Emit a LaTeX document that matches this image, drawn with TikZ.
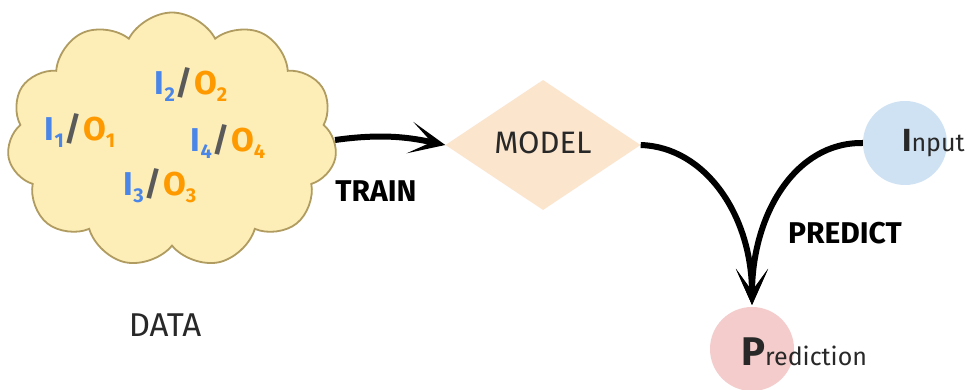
\documentclass[tikz,border=0pt]{standalone}
\usepackage{fontspec}
\setmainfont{Fira Sans}
\usetikzlibrary{shapes.symbols,shapes.geometric,arrows.meta}
\definecolor{cloudfill}{RGB}{253,238,184}
\definecolor{cloudline}{RGB}{176,156,96}
\definecolor{modelfill}{RGB}{252,229,205}
\definecolor{inputfill}{RGB}{207,226,243}
\definecolor{predfill}{RGB}{244,204,204}
\definecolor{iblue}{RGB}{74,134,232}
\definecolor{oorange}{RGB}{255,153,0}
\definecolor{slashgray}{RGB}{90,90,90}
\definecolor{txt}{RGB}{40,40,40}
\newcommand{\fsz}[1]{\fontsize{#1}{#1}\selectfont}
\newcommand{\pair}[1]{{\fsz{33}\bfseries
  \textcolor{iblue}{I\raisebox{-7pt}{\fsz{20}#1}}\kern1pt
  \textcolor{slashgray}{/}\kern1pt
  \textcolor{oorange}{O\raisebox{-7pt}{\fsz{20}#1}}}}
\tikzset{
  flow/.style={line width=6pt, draw=black},
  tip/.style={-{Stealth[length=36pt,width=32pt,inset=22pt]}},
  lbl/.style={font=\fsz{30}\bfseries, text=black},
  plain/.style={font=\fsz{31}, text=txt},
  blob/.style={circle, minimum size=84pt, inner sep=0pt, draw=none}
}
\begin{document}
\begin{tikzpicture}[x=1pt,y=-1pt]
\useasboundingbox (0,0) rectangle (967,390);
\fill[white] (0,0) rectangle (967,390);

% training data cloud
\node[cloud, cloud puffs=11, cloud puff arc=125, aspect=1.3,
      minimum width=330pt, minimum height=255pt, inner sep=0pt,
      fill=cloudfill, draw=cloudline, line width=1.8pt] (data) at (172,140) {};

\node (p1) at (80,131) {\pair{1}};
\node (p2) at (191,85) {\pair{2}};
\node (p4) at (228,142) {\pair{4}};
\node (p3) at (160,186) {\pair{3}};
\node[plain, font=\fsz{33}] (datalbl) at (165,325) {DATA};

% model
\node[diamond, aspect=1.5, minimum width=195pt, minimum height=130pt,
      inner sep=0pt, fill=modelfill, draw=none] (model) at (543,145) {};
\node[plain] (modellbl) at (543,143) {MODEL};

% input and prediction
\node[blob, fill=inputfill] (inp) at (905,143) {};
\node[blob, fill=predfill] (pred) at (752,349) {};
\node[anchor=base west, inner sep=0pt, text=txt] (inplbl) at (902,152)
  {{\fsz{32}\bfseries I}{\fsz{25}nput}};
\node[anchor=base west, inner sep=0pt, text=txt] (predlbl) at (741,365)
  {{\fsz{40}\bfseries P}{\fsz{25}rediction}};

\coordinate (hit) at (752,305);

% connectors
\draw[flow, tip] (data.east) .. controls (385,133) and (412,138) .. (model.west);
\node[lbl] (train) at (376,191) {TRAIN};
\draw[flow, tip] (model.east) .. controls (705,147) and (752,215) .. (hit);
\draw[flow, tip] (inp.west) .. controls (795,142) and (752,215) .. (hit);
\node[lbl] (predict) at (845,233) {PREDICT};
\end{tikzpicture}
\end{document}
